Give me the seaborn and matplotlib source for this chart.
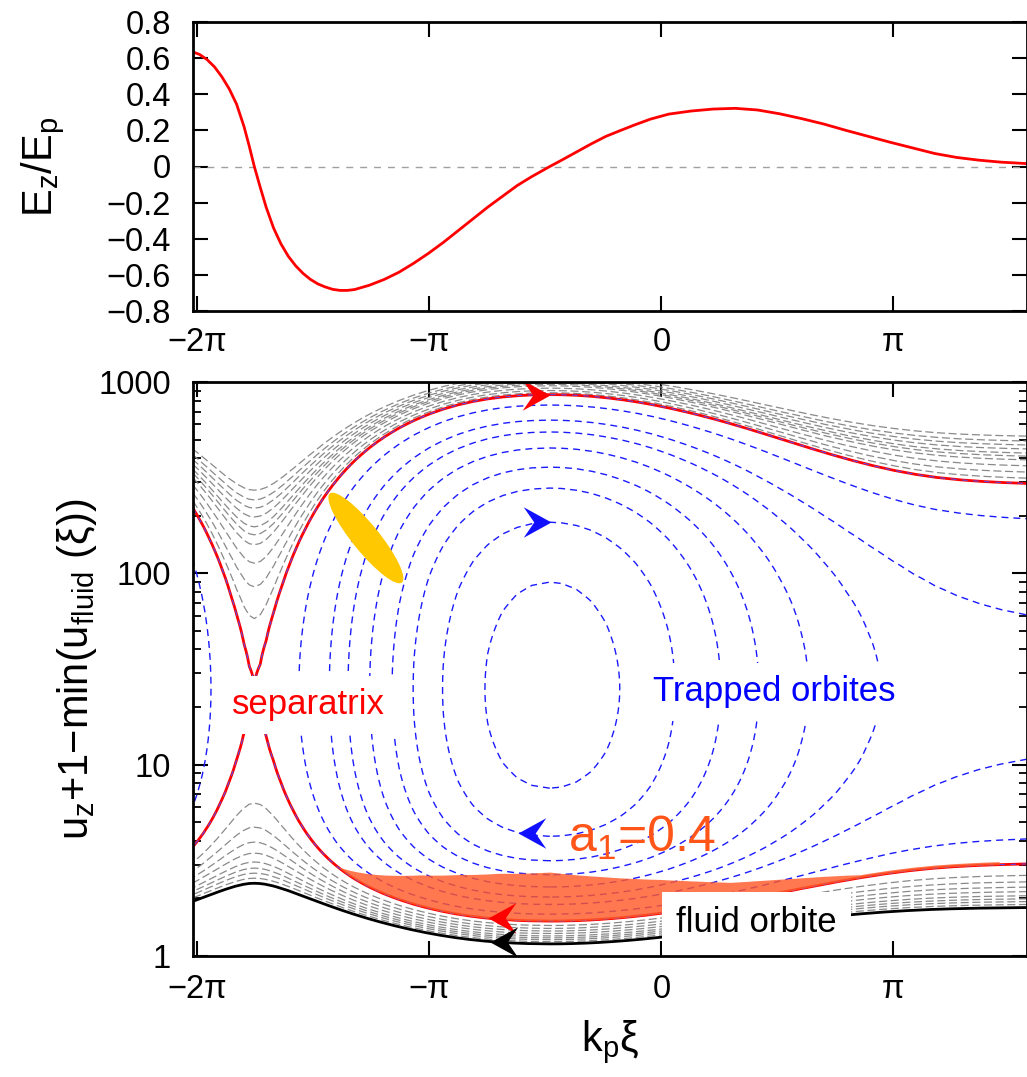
import numpy as np
import pandas as pd
import matplotlib
matplotlib.use("Agg")
import matplotlib.pyplot as plt
import seaborn as sns
import contourpy
from matplotlib.path import Path
from matplotlib.patches import Ellipse
from matplotlib.transforms import ScaledTranslation
from matplotlib.ticker import LogLocator, NullFormatter, FixedLocator

# ---------------- values ----------------
# longitudinal field E_z/E_p versus k_p xi (top panel)
xi_nodes = [-6.35, -6.25, -6.15, -6.05, -5.95, -5.85, -5.75, -5.65, -5.58, -5.51,
            -5.43, -5.35, -5.25, -5.15, -5.05, -4.95, -4.85, -4.75, -4.65, -4.55,
            -4.45, -4.35, -4.25, -4.15, -3.95, -3.75, -3.55, -3.35, -3.15, -2.95,
            -2.75, -2.55, -2.35, -2.15, -1.95, -1.75, -1.51, -1.35, -1.15, -0.95,
            -0.75, -0.55, -0.35, -0.15, 0.10, 0.40, 0.70, 1.00, 1.30, 1.60,
            1.90, 2.20, 2.50, 2.80, 3.10, 3.40, 3.70, 4.00, 4.30, 4.60, 4.95]
ez_values = [0.636, 0.620, 0.592, 0.552, 0.497, 0.430, 0.345, 0.222, 0.115, 0.000,
             -0.115, -0.225, -0.340, -0.428, -0.497, -0.550, -0.592, -0.625, -0.650, -0.667,
             -0.680, -0.686, -0.686, -0.681, -0.657, -0.625, -0.585, -0.535, -0.480, -0.420,
             -0.355, -0.290, -0.225, -0.165, -0.105, -0.055, 0.000, 0.035, 0.080, 0.125,
             0.167, 0.200, 0.232, 0.262, 0.290, 0.307, 0.318, 0.322, 0.313, 0.292,
             0.265, 0.235, 0.200, 0.167, 0.134, 0.103, 0.072, 0.050, 0.035, 0.024, 0.016]

# phase-space parameters
gamma_p = 23.7          # X-point height  (u_z = gamma_p * beta_p)
fluid_offset = 1.25     # 1 - min(u_fluid)
phi_scale = 0.432       # potential units per unit of integrated E_z

# orbit levels, each given by a height read on the picture
trapped_top_y = [758, 632, 548, 452, 359, 279, 185, 90]          # tops at the O-point
upper_min_y = [272, 242, 219, 197, 175, 159, 141, 113, 85, 58]   # minima at the X-point
lower_peak_y = [6.30, 4.72, 3.94, 3.45, 3.10, 2.88, 2.71, 2.55]  # maxima at the X-point
fluid_peak_y = 2.40                                              # fluid orbit at the X-point

# orange trapping region (a1 = 0.4): upper edge and the separatrix below it
orange_xi = [-4.36, -3.82, -3.27, -2.73, -2.19, -1.51, -0.84, -0.02, 0.93, 1.87, 2.69, 3.50, 4.58]
orange_top = [2.405, 2.463, 2.523, 2.585, 2.647, 2.745, 2.846, 2.951, 2.880, 2.778, 2.617, 2.554, 2.523]
orange_bot = [2.376, 2.008, 1.738, 1.597, 1.522, 1.522, 1.696, 1.960, 2.264, 2.434, 2.523, 2.463, 2.434]

# direction arrows on the orbits
arrow_xi = [-1.44, -1.48, -1.92, -2.35, -2.33]
arrow_y = [855, 187.5, 4.72, 1.49, 1.14]
arrow_dir = ['right', 'right', 'left', 'left', 'left']
arrow_orbit = ['separatrix', 'trapped', 'trapped', 'separatrix', 'fluid']
arrow_col = ['#ff0000', '#1010ff', '#1010ff', '#ff0000', '#000000']

# yellow injected bunch
bunch_xi, bunch_y = -4.0, 153.0

# ticks
xtick_pos = [-2 * np.pi, -np.pi, 0.0, np.pi]
xtick_lab = ['\u22122\u03c0', '\u2212\u03c0', '0', '\u03c0']
ez_ticks = [-0.8, -0.6, -0.4, -0.2, 0.0, 0.2, 0.4, 0.6, 0.8]
ez_tick_lab = ['\u22120.8', '\u22120.6', '\u22120.4', '\u22120.2', '0', '0.2', '0.4', '0.6', '0.8']
u_ticks = [1, 10, 100, 1000]
u_tick_lab = ['1', '10', '100', '1000']

# ---------------- style ----------------
sns.set_theme(style='ticks')
plt.rcParams['font.family'] = ['Liberation Sans', 'DejaVu Sans']
plt.rcParams['mathtext.fontset'] = 'custom'
plt.rcParams['mathtext.rm'] = 'Liberation Sans'
plt.rcParams['lines.scale_dashes'] = False
for k in ['axes.edgecolor', 'xtick.color', 'ytick.color', 'text.color', 'axes.labelcolor']:
    plt.rcParams[k] = 'black'

XMIN, XMAX = -6.34, 4.95
TICK_FS = 23.5
LAB_FS = 30

fig = plt.figure(figsize=(10.27, 10.77), dpi=100)
ax1 = fig.add_axes([193 / 1027, 1 - 311 / 1077, 834 / 1027, 289 / 1077])
ax2 = fig.add_axes([193 / 1027, 1 - 956 / 1077, 834 / 1027, 574 / 1077])

# ---------------- top panel ----------------
ez_df = pd.DataFrame({'xi': xi_nodes, 'Ez': ez_values})
ax1.axhline(0, color='#a0a0a0', lw=1.0, dashes=(5, 5), zorder=1)
sns.lineplot(data=ez_df, x='xi', y='Ez', ax=ax1, color='#ff0000', lw=2.0, zorder=3)
ax1.set_xlim(XMIN, XMAX)
ax1.set_ylim(-0.8, 0.8)
ax1.set_xticks(xtick_pos)
ax1.set_xticklabels(xtick_lab)
ax1.set_yticks(ez_ticks)
ax1.set_yticklabels(ez_tick_lab)
ax1.set_xlabel('')
ax1.set_ylabel('E$_\\mathregular{z}$/E$_\\mathregular{p}$', fontsize=LAB_FS)
ax1.yaxis.set_label_coords(-0.151, 0.5)
ax1.tick_params(axis='both', which='major', direction='in', length=10.8, width=1.5,
                top=True, right=True, labelsize=TICK_FS)
ax1.tick_params(axis='y', pad=16)
ax1.tick_params(axis='x', pad=11.5)

# ---------------- lower panel: phase space orbits ----------------
xi = np.array(xi_nodes)
ez = np.array(ez_values)
seg_area = 0.5 * (ez[1:] + ez[:-1]) * np.diff(xi)
phi = phi_scale * np.concatenate([np.cumsum(seg_area[::-1])[::-1], [0.0]])
beta_p = np.sqrt(1.0 - 1.0 / gamma_p ** 2)


def g(u):
    return np.sqrt(1.0 + u ** 2) - beta_p * u


y_p = gamma_p * beta_p + fluid_offset
phi_X = phi.min()
phi_O = phi.max()

y_up = np.logspace(np.log10(y_p), np.log10(1200.0), 1200)
y_lo = np.logspace(np.log10(0.9), np.log10(y_p), 1200)
y_all = np.concatenate([y_lo[:-1], y_up])


def field(yg):
    return g(yg[:, None] - fluid_offset) - phi[None, :]


gen_up = contourpy.contour_generator(x=xi, y=y_up, z=field(y_up))
gen_lo = contourpy.contour_generator(x=xi, y=y_lo, z=field(y_lo))
gen_all = contourpy.contour_generator(x=xi, y=y_all, z=field(y_all))

drawn = {'separatrix': [], 'trapped': [], 'fluid': [], 'sep_lower': []}


def draw(gen, level, key=None, **kw):
    for s in gen.lines(level):
        ax2.plot(s[:, 0], s[:, 1], **kw)
        if key is not None:
            drawn[key].append(s)


h_sep = 1.0 / gamma_p - phi_X + 1e-6
grey_kw = dict(color='#8a8a8a', lw=0.9, dashes=(5.8, 2.6), zorder=2)
blue_kw = dict(color='#1a1aff', lw=1.0, dashes=(5.0, 3.6), zorder=2.2)

for yv in upper_min_y:
    draw(gen_up, g(yv - fluid_offset) - phi_X, **grey_kw)
for yv in lower_peak_y:
    draw(gen_lo, g(yv - fluid_offset) - phi_X, **grey_kw)
for yv in trapped_top_y:
    draw(gen_all, g(yv - fluid_offset) - phi_O, key='trapped', **blue_kw)

# fluid orbit
draw(gen_lo, g(fluid_peak_y - fluid_offset) - phi_X, key='fluid', color='black', lw=2.0, zorder=2.4)
# separatrix (red, with the blue dashed orbit on top of it)
draw(gen_up, h_sep, key='separatrix', color='#ff0000', lw=2.0, zorder=2.6)
draw(gen_lo, h_sep, key='sep_lower', color='#ff0000', lw=2.0, zorder=2.6)
drawn['separatrix'] += drawn['sep_lower']
for gen in (gen_up, gen_lo):
    draw(gen, h_sep, color='#5050ff', lw=0.7, dashes=(4, 4), zorder=2.7)

# orange region, laid on the drawn separatrix with the thickness read on the picture
sep_lo = max(drawn['sep_lower'], key=len)
sep_lo = sep_lo[np.argsort(sep_lo[:, 0])]
keep = (sep_lo[:, 0] >= orange_xi[0]) & (sep_lo[:, 0] <= orange_xi[-1])
ox = sep_lo[keep, 0]
obot = sep_lo[keep, 1]
ratio = np.interp(ox, orange_xi, np.array(orange_top) / np.array(orange_bot))
ax2.fill_between(ox, obot, obot * ratio, color='#ff5a28', alpha=0.82, lw=0, zorder=3.5)

# yellow bunch
bunch = Ellipse((0, 0), width=1.145, height=0.27, angle=-51,
                transform=fig.dpi_scale_trans + ScaledTranslation(bunch_xi, bunch_y, ax2.transData),
                facecolor='#ffc800', edgecolor='none', zorder=4)
ax2.add_artist(bunch)

# arrows, placed on the nearest point of their orbit
head_r = Path([(0, 0), (-1, 0.55), (-0.62, 0), (-1, -0.55), (0, 0)],
              [Path.MOVETO, Path.LINETO, Path.LINETO, Path.LINETO, Path.CLOSEPOLY])
head_l = Path([(0, 0), (1, 0.55), (0.62, 0), (1, -0.55), (0, 0)],
              [Path.MOVETO, Path.LINETO, Path.LINETO, Path.LINETO, Path.CLOSEPOLY])


def snap(x0, y0, lines):
    best, bd = (x0, y0), np.inf
    for s in lines:
        d = ((s[:, 0] - x0) * 0.39) ** 2 + (np.log10(s[:, 1]) - np.log10(y0)) ** 2
        i = int(np.argmin(d))
        if d[i] < bd:
            bd, best = d[i], (s[i, 0], s[i, 1])
    return best


for ax_, ay_, ad_, ao_, ac_ in zip(arrow_xi, arrow_y, arrow_dir, arrow_orbit, arrow_col):
    px, py = snap(ax_, ay_, drawn[ao_])
    ax2.plot([px], [py], marker=head_r if ad_ == 'right' else head_l, ms=40,
             color=ac_, mew=0, ls='none', zorder=5)

# labels inside the plot
ax2.text(-4.78, 20.6, 'separatrix', color='#ff0000', fontsize=25, ha='center', va='center',
         bbox=dict(boxstyle='square,pad=0.36', fc='white', ec='none'), zorder=6)
ax2.text(1.534, 24.0, 'Trapped orbites', color='#0000ff', fontsize=25, ha='center', va='center',
         bbox=dict(boxstyle='square,pad=0.35', fc='white', ec='none'), zorder=6)
ax2.text(1.29, 1.50, 'fluid orbite', color='black', fontsize=25, ha='center', va='center',
         bbox=dict(boxstyle='square,pad=0.4', fc='white', ec='none'), zorder=6)
ax2.text(-1.27, 3.49, 'a$_\\mathregular{1}$=0.4', color='#ff5518', fontsize=36,
         ha='left', va='baseline', zorder=6)

ax2.set_yscale('log')
ax2.set_xlim(XMIN, XMAX)
ax2.set_ylim(1, 1000)
ax2.set_xticks(xtick_pos)
ax2.set_xticklabels(xtick_lab)
ax2.yaxis.set_major_locator(FixedLocator(u_ticks))
ax2.set_yticklabels(u_tick_lab)
ax2.yaxis.set_minor_locator(LogLocator(base=10, subs=np.arange(2, 10)))
ax2.yaxis.set_minor_formatter(NullFormatter())
ax2.set_xlabel('k$_\\mathregular{p}$\u03be', fontsize=LAB_FS)
ax2.xaxis.set_label_coords(0.5, -0.108)
ax2.set_ylabel('u$_\\mathregular{z}$+1\u2212min(u$_\\mathregular{fluid}$ (\u03be))', fontsize=LAB_FS)
ax2.yaxis.set_label_coords(-0.113, 0.5)
ax2.tick_params(axis='both', which='major', direction='in', length=10.8, width=1.5,
                top=True, right=True, labelsize=TICK_FS)
ax2.tick_params(axis='y', which='minor', direction='in', length=5.8, width=1.3, right=True, left=True)
ax2.tick_params(axis='y', which='both', pad=16)
ax2.tick_params(axis='x', pad=13)

for a in (ax1, ax2):
    for sp in a.spines.values():
        sp.set_linewidth(2.0)
        sp.set_color('black')
        sp.set_zorder(7)

fig.savefig('out.png', dpi=100)
